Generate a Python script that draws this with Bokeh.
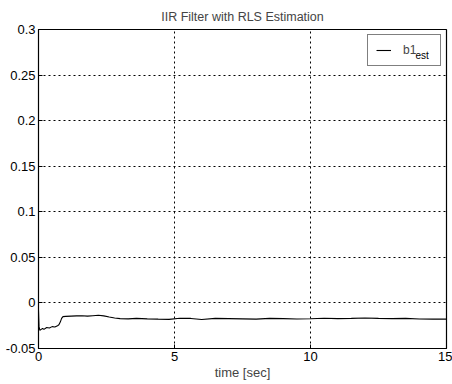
from bokeh.plotting import figure
from bokeh.models import FixedTicker, Range1d, Legend, LegendItem
from bokeh.core.properties import value
from bokeh.embed import file_html
from bokeh.resources import INLINE

t = [0.0, 0.02, 0.05, 0.1, 0.15, 0.2, 0.3, 0.4, 0.5, 0.6, 0.7, 0.75, 0.8, 0.85,
     0.9, 1.0, 1.2, 1.4, 1.6, 1.8, 2.0, 2.2, 2.4, 2.6, 2.8, 3.0, 3.3, 3.6, 4.0,
     4.4, 4.8, 5.2, 5.6, 6.0, 6.5, 7.0, 7.5, 8.0, 8.5, 9.0, 9.5, 10.0, 10.5,
     11.0, 11.5, 12.0, 12.5, 13.0, 13.5, 14.0, 14.5, 15.0]
b1_est = [-0.008, -0.026, -0.030, -0.029, -0.028, -0.029, -0.027, -0.0275, -0.026,
          -0.0265, -0.025, -0.024, -0.021, -0.017, -0.015, -0.0148, -0.0145, -0.0142,
          -0.014, -0.0145, -0.014, -0.0135, -0.0142, -0.0155, -0.0165, -0.0172, -0.0175,
          -0.017, -0.0175, -0.0178, -0.018, -0.0168, -0.017, -0.0182, -0.017,
          -0.0172, -0.0175, -0.0178, -0.017, -0.0172, -0.0176, -0.0174, -0.0168, -0.0172,
          -0.017, -0.0165, -0.017, -0.0172, -0.017, -0.0176, -0.0178, -0.0178]
x_ticks = [0, 5, 10, 15]
y_ticks = [-0.05, 0, 0.05, 0.1, 0.15, 0.2, 0.25, 0.3]
y_tick_labels = ["-0.05", "0", "0.05", "0.1", "0.15", "0.2", "0.25", "0.3"]
legend_name = "b1"
legend_sub = "est"

FONT = "Liberation Sans"

p = figure(width=452, height=384, output_backend="svg", toolbar_location=None,
           x_range=Range1d(0, 15), y_range=Range1d(-0.05, 0.3),
           title="IIR Filter with RLS Estimation",
           min_border_left=38, min_border_right=6, min_border_top=29,
           min_border_bottom=36)
p.title.align = "center"
p.title.text_font = FONT
p.title.text_font_size = "12.5px"
p.title.text_font_style = "normal"
p.title.offset = 0
p.title.standoff = 12

p.outline_line_color = "black"
p.outline_line_width = 1.2
p.background_fill_color = "white"
p.border_fill_color = "white"

p.xaxis.ticker = FixedTicker(ticks=x_ticks)
p.yaxis.ticker = FixedTicker(ticks=y_ticks)
p.yaxis.major_label_overrides = {v: s for v, s in zip(y_ticks, y_tick_labels)}
p.xaxis.axis_label = "time [sec]"
for ax in (p.xaxis, p.yaxis):
    ax.major_label_text_font = FONT
    ax.major_label_text_font_size = "13px"
    ax.axis_label_text_font = FONT
    ax.axis_label_text_font_size = "13px"
    ax.axis_label_text_font_style = "normal"
    ax.major_tick_in = 4
    ax.major_tick_out = 0
    ax.minor_tick_line_color = None
    ax.axis_line_color = "black"
    ax.major_tick_line_color = "black"
    ax.major_label_text_color = "black"
p.yaxis.major_label_standoff = 3
p.xaxis.major_label_standoff = 3
p.xaxis.axis_label_standoff = 1

for g in (p.xgrid, p.ygrid):
    g.grid_line_color = "black"
    g.grid_line_dash = "2 3"
    g.grid_line_width = 1

r = p.line(t, b1_est, line_color="black", line_width=1.1)

legend = Legend(items=[LegendItem(label=legend_name, renderers=[r])], location="top_right")
legend.label_text_font = FONT
legend.label_text_font_size = "12px"
legend.label_width = 29
legend.label_height = 12
legend.border_line_color = "black"
legend.border_line_width = 1
legend.background_fill_alpha = 0
legend.margin = 5
legend.padding = 8
legend.glyph_width = 15
legend.glyph_height = 12
legend.label_standoff = 12
legend.spacing = 0
p.add_layout(legend)

p.text(x=[13.86], y=[0.2715], text=[legend_sub], text_font=value(FONT),
       text_font_size="10px", text_color="black", text_baseline="alphabetic")

open("out.html", "w").write(file_html(p, INLINE))
